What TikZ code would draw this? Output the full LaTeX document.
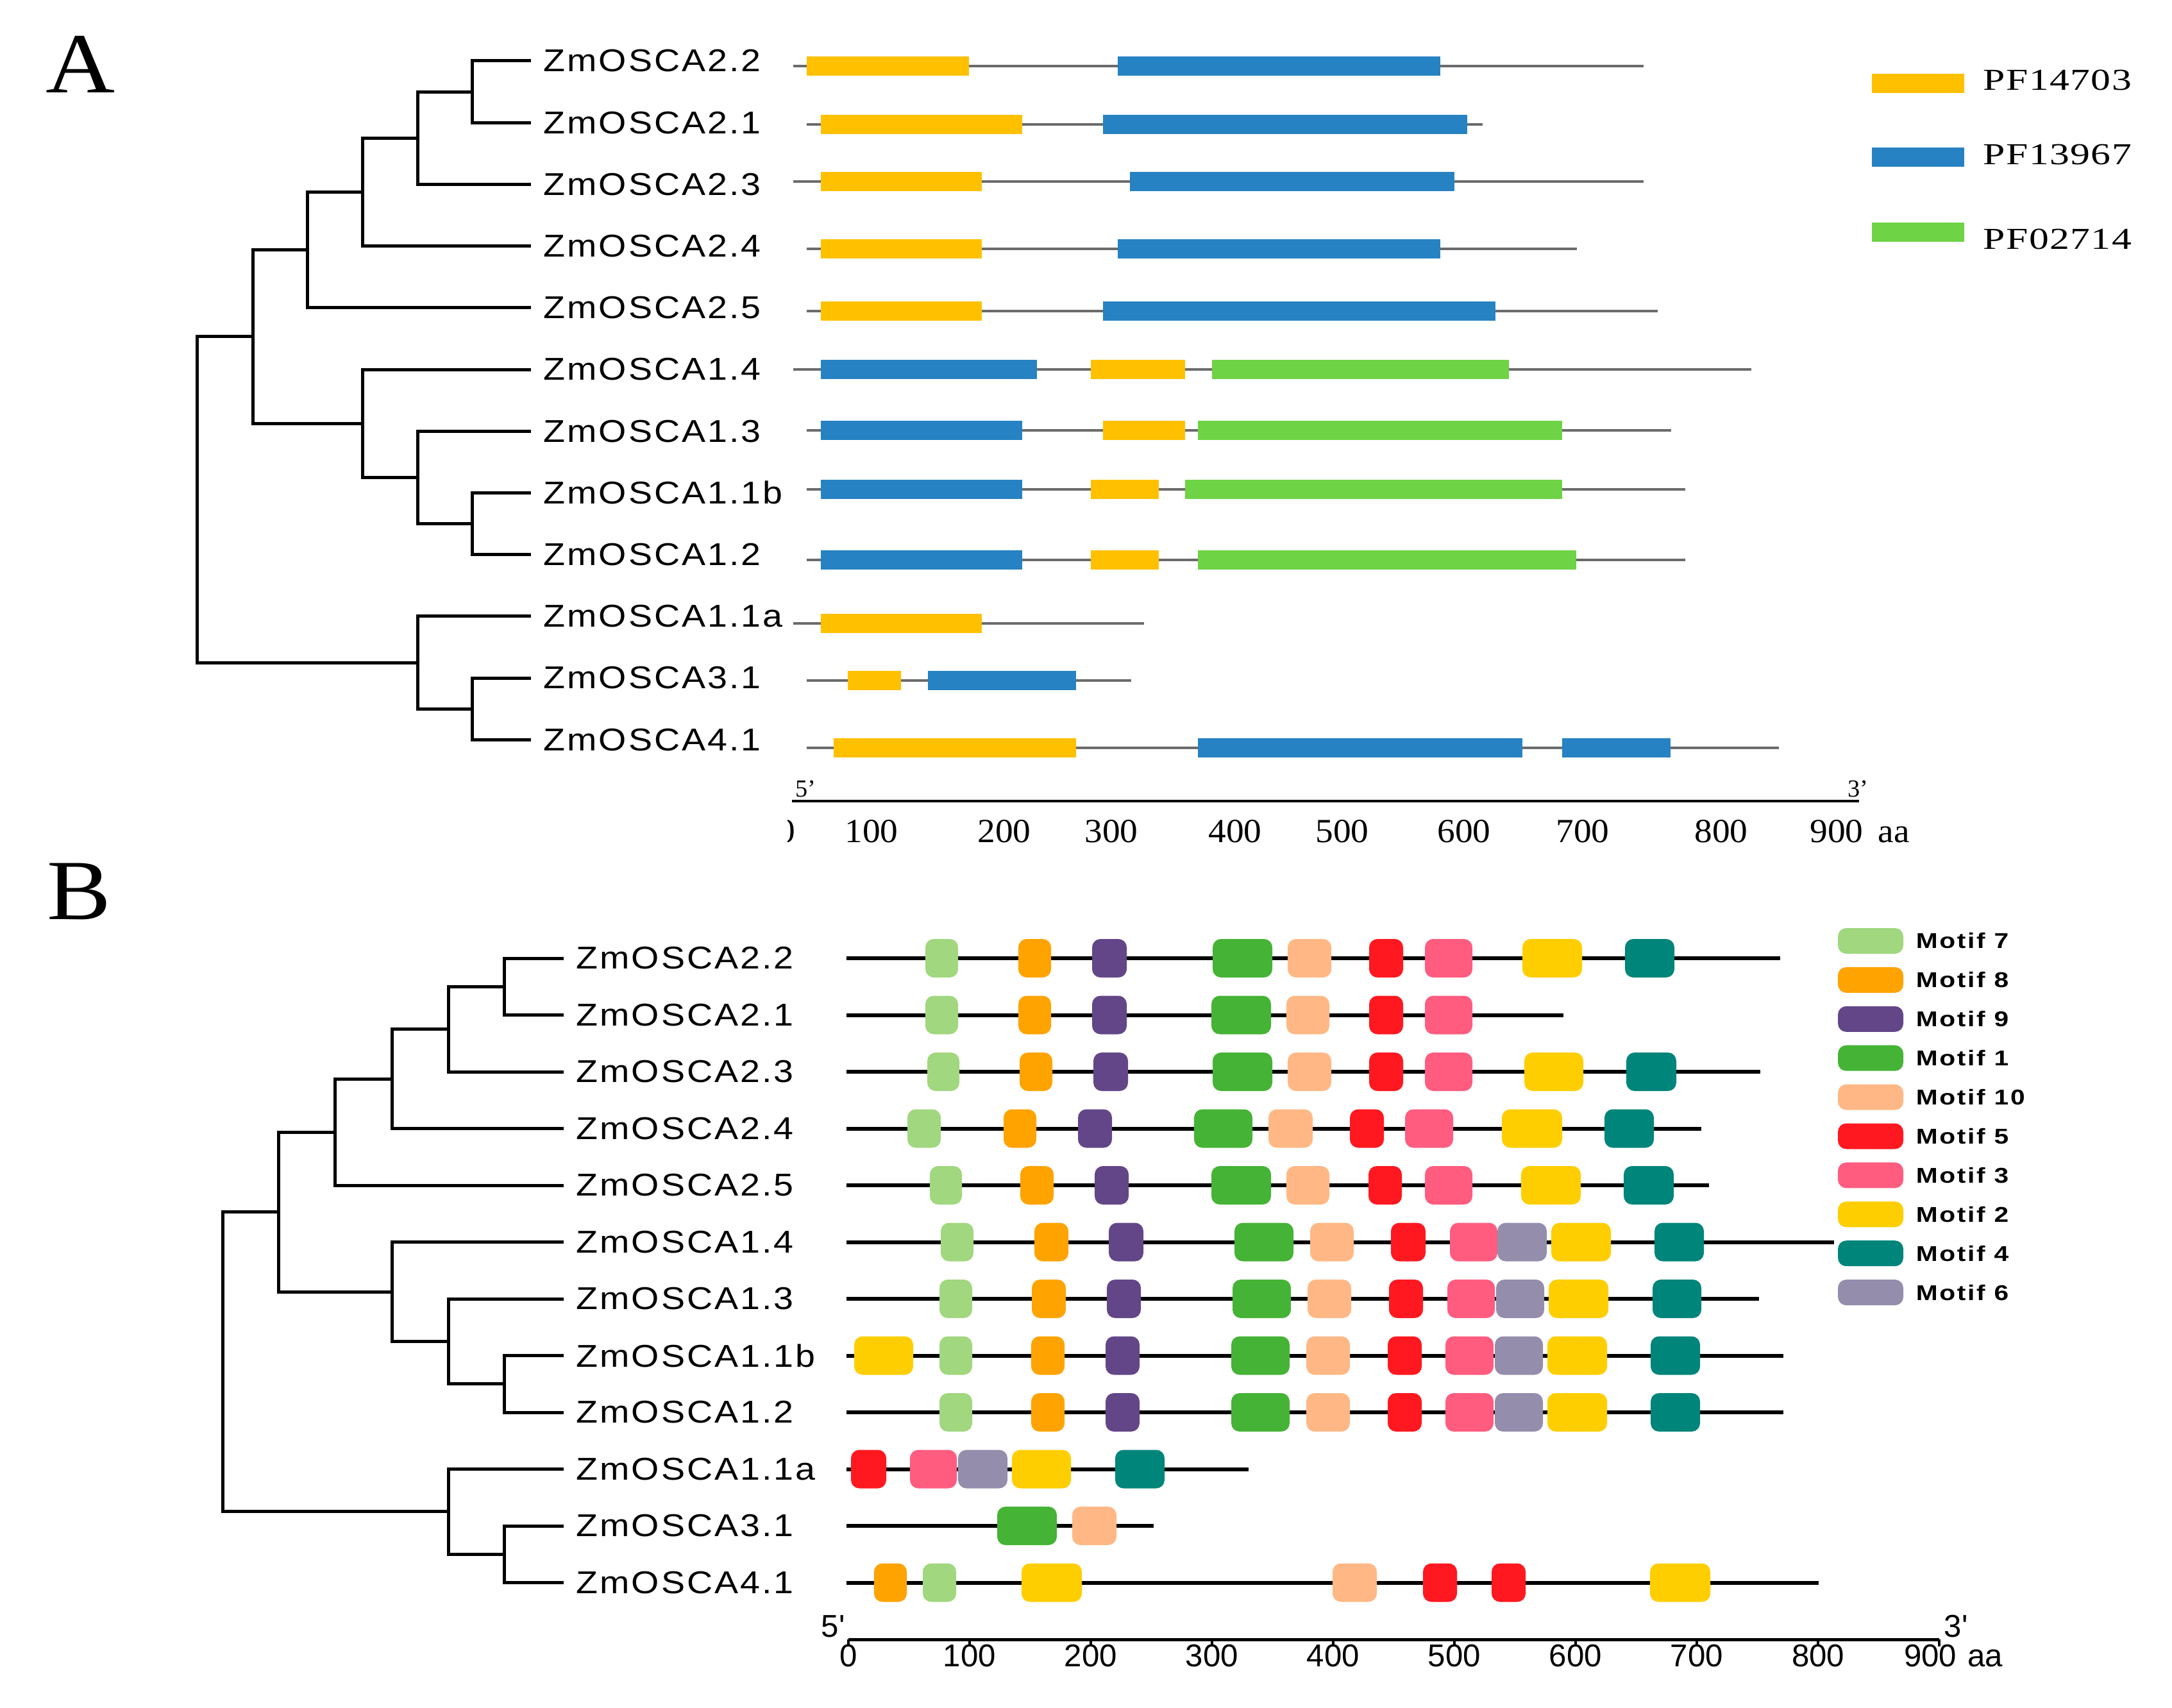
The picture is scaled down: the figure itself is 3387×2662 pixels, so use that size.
\documentclass[tikz,border=0pt]{standalone}
\usepackage{fontspec}
\setmainfont{Liberation Serif}
\setsansfont{Liberation Sans}
\newfontfamily\genefont[FakeStretch=1.13,LetterSpace=6]{Liberation Sans}
\newfontfamily\pffont[FakeStretch=1.3,LetterSpace=3]{Liberation Serif}
\newfontfamily\aafont[FakeStretch=1.05]{Liberation Serif}
\newfontfamily\motiffont[FakeStretch=1.22,LetterSpace=8]{Liberation Sans}
\newfontfamily\panelfont[FakeStretch=1.12]{Liberation Serif}
\usetikzlibrary{positioning}

\definecolor{pfyel}{HTML}{FFC000}
\definecolor{pfblu}{HTML}{2682C2}
\definecolor{pfgrn}{HTML}{6ED345}
\definecolor{seqgray}{HTML}{6B6B6B}
\definecolor{mot1}{HTML}{45B335}
\definecolor{mot2}{HTML}{FFCE00}
\definecolor{mot3}{HTML}{FF5C80}
\definecolor{mot4}{HTML}{00857A}
\definecolor{mot5}{HTML}{FF1820}
\definecolor{mot6}{HTML}{958DAC}
\definecolor{mot7}{HTML}{A1D77F}
\definecolor{mot8}{HTML}{FFA300}
\definecolor{mot9}{HTML}{634688}
\definecolor{mot10}{HTML}{FFB885}

\tikzset{
  tree/.style={line width=0.5mm, line cap=rect, line join=miter},
  gene/.style={font=\genefont\fontsize{14}{16}\selectfont, anchor=west, inner xsep=2.2mm, inner ysep=0pt},
  seqA/.style={line width=0.4mm, seqgray},
  seqB/.style={line width=0.6mm, black},
  motif/.style={rounded corners=1.3mm},
  pflabel/.style={font=\pffont\fontsize{13.5}{15}\selectfont, anchor=base west, inner sep=0pt},
  motlabel/.style={font=\motiffont\bfseries\fontsize{9.5}{11}\selectfont, anchor=west, inner sep=0pt},
  tickA/.style={font=\aafont\fontsize{15}{17}\selectfont, inner sep=0pt},
  tickB/.style={font=\sffamily\fontsize{14}{16}\selectfont, inner sep=0pt, anchor=north},
  panel/.style={font=\panelfont\fontsize{38}{42}\selectfont, inner sep=0pt}
}

\begin{document}
\begin{tikzpicture}[x=0.1mm, y=-0.1mm]
\useasboundingbox (0,0) rectangle (3387,2662);

\node[panel] (pA) at (126,100) {A};
\node[panel] (pB) at (123,1390) {B};

% gene names, both trees
\foreach \n [count=\i] in {ZmOSCA2.2,ZmOSCA2.1,ZmOSCA2.3,ZmOSCA2.4,ZmOSCA2.5,ZmOSCA1.4,ZmOSCA1.3,ZmOSCA1.1b,ZmOSCA1.2,ZmOSCA1.1a,ZmOSCA3.1,ZmOSCA4.1}{
  \node[gene] (la\i) at (825,{95+96.2*(\i-1)}) {\n};
  \node[gene] (lb\i) at (876,{1494+88.5*(\i-1)}) {\n};
}

% tree A
\coordinate (a1) at (736,143.1);
\coordinate (a2) at (651,215.25);
\coordinate (a3) at (565,299.4);
\coordinate (a4) at (479,389.6);
\coordinate (a5) at (736,816.5);
\coordinate (a6) at (651,744.35);
\coordinate (a7) at (565,660.2);
\coordinate (a8) at (394,524.9);
\coordinate (a9) at (736,1105.1);
\coordinate (a10) at (651,1033);
\coordinate (a11) at (307,779);
\draw[tree] (la1) -| (a1) |- (la2);
\draw[tree] (a1) -| (a2) |- (la3);
\draw[tree] (a2) -| (a3) |- (la4);
\draw[tree] (a3) -| (a4) |- (la5);
\draw[tree] (la8) -| (a5) |- (la9);
\draw[tree] (la7) -| (a6) |- (a5);
\draw[tree] (la6) -| (a7) |- (a6);
\draw[tree] (a4) -| (a8) |- (a7);
\draw[tree] (la11) -| (a9) |- (la12);
\draw[tree] (la10) -| (a10) |- (a9);
\draw[tree] (a8) -| (a11) |- (a10);

% tree B
\coordinate (b1) at (786,1538.25);
\coordinate (b2) at (699,1604.6);
\coordinate (b3) at (611,1682.1);
\coordinate (b4) at (522,1765);
\coordinate (b5) at (786,2157.75);
\coordinate (b6) at (699,2091.4);
\coordinate (b7) at (611,2014);
\coordinate (b8) at (434,1889.5);
\coordinate (b9) at (786,2423.25);
\coordinate (b10) at (699,2356.9);
\coordinate (b11) at (347,2123.2);
\draw[tree] (lb1) -| (b1) |- (lb2);
\draw[tree] (b1) -| (b2) |- (lb3);
\draw[tree] (b2) -| (b3) |- (lb4);
\draw[tree] (b3) -| (b4) |- (lb5);
\draw[tree] (lb8) -| (b5) |- (lb9);
\draw[tree] (lb7) -| (b6) |- (b5);
\draw[tree] (lb6) -| (b7) |- (b6);
\draw[tree] (b4) -| (b8) |- (b7);
\draw[tree] (lb11) -| (b9) |- (lb12);
\draw[tree] (lb10) -| (b10) |- (b9);
\draw[tree] (b8) -| (b11) |- (b10);

% Pfam domains
\foreach \y/\s/\e/\doms in {
  103/1237/2563/{pfyel/1258/1511,pfblu/1743/2246},
  194/1258/2312/{pfyel/1280/1594,pfblu/1720/2288},
  283/1237/2563/{pfyel/1280/1531,pfblu/1762/2268},
  388/1258/2459/{pfyel/1280/1531,pfblu/1743/2246},
  485/1258/2585/{pfyel/1280/1531,pfblu/1720/2332},
  576/1237/2731/{pfblu/1280/1617,pfyel/1701/1848,pfgrn/1890/2353},
  671/1258/2606/{pfblu/1280/1594,pfyel/1720/1848,pfgrn/1868/2436},
  763/1258/2628/{pfblu/1280/1594,pfyel/1701/1807,pfgrn/1848/2436},
  873/1258/2628/{pfblu/1280/1594,pfyel/1701/1807,pfgrn/1868/2458},
  972/1237/1784/{pfyel/1280/1531},
  1061/1258/1764/{pfyel/1322/1405,pfblu/1447/1678},
  1166/1258/2774/{pfyel/1300/1678,pfblu/1868/2374,pfblu/2436/2605}}{
  \draw[seqA] (\s,\y) -- (\e,\y);
  \foreach \c/\p/\q in \doms
    \fill[fill=\c] (\p,\y-15) rectangle (\q,\y+15);
}

\foreach \c/\y/\t/\b in {pfyel/130/PF14703/141,pfblu/245/PF13967/256,pfgrn/362/PF02714/388}{
  \fill[fill=\c] (2919,\y-15) rectangle (3063,\y+15);
  \node[pflabel] (leg\t) at (3092,\b) {\t};
}

% scale A
\draw[line width=0.4mm] (1235,1249) -- (2899,1249);
\begin{scope}
  \clip (1228,1265) rectangle (1262,1330);
  \node[tickA] (ta0) at (1226,1296) {0};
\end{scope}
\foreach \v/\x in {100/1359,200/1566,300/1733,400/1926,500/2093,600/2283,700/2468,800/2684,900/2864}
  \node[tickA] (ta\v) at (\x,1296) {\v};
\node[tickA, base right=2.2mm of ta900] (aaA) {aa};
\node[font=\fontsize{10.9}{12}\selectfont, inner sep=0pt] (fiveA) at (1256,1230) {5'};
\node[font=\fontsize{10.9}{12}\selectfont, inner sep=0pt] (threeA) at (2897,1230) {3'};

% conserved motifs
\foreach \y/\e/\mots in {
  1494/2776/{mot7/1443/1494,mot8/1588/1639,mot9/1703/1757,mot1/1891/1984,mot10/2008/2076,mot5/2135/2188,mot3/2222/2296,mot2/2374/2467,mot4/2534/2611},
  1582.5/2438/{mot7/1443/1494,mot8/1588/1639,mot9/1703/1757,mot1/1889/1982,mot10/2006/2073,mot5/2135/2188,mot3/2222/2296},
  1671/2745/{mot7/1446/1496,mot8/1590/1641,mot9/1705/1759,mot1/1891/1984,mot10/2008/2076,mot5/2135/2188,mot3/2222/2296,mot2/2377/2469,mot4/2536/2614},
  1759.5/2653/{mot7/1415/1467,mot8/1565/1616,mot9/1681/1734,mot1/1862/1953,mot10/1978/2047,mot5/2105/2158,mot3/2191/2266,mot2/2342/2436,mot4/2502/2579},
  1848/2665/{mot7/1450/1500,mot8/1591/1643,mot9/1707/1760,mot1/1889/1982,mot10/2006/2073,mot5/2134/2186,mot3/2222/2296,mot2/2372/2465,mot4/2532/2610},
  1936.5/2860/{mot7/1467/1518,mot8/1613/1666,mot9/1729/1783,mot1/1925/2017,mot10/2043/2111,mot5/2169/2223,mot3/2261/2335,mot6/2335/2412,mot2/2419/2512,mot4/2580/2657},
  2025/2743/{mot7/1465/1516,mot8/1609/1662,mot9/1726/1779,mot1/1922/2013,mot10/2039/2107,mot5/2166/2219,mot3/2257/2331,mot6/2333/2408,mot2/2415/2508,mot4/2577/2653},
  2113.5/2781/{mot2/1332/1424,mot7/1465/1516,mot8/1608/1660,mot9/1724/1777,mot1/1920/2011,mot10/2037/2105,mot5/2164/2217,mot3/2254/2329,mot6/2331/2406,mot2/2413/2506,mot4/2574/2651},
  2202/2781/{mot7/1465/1516,mot8/1608/1660,mot9/1724/1777,mot1/1920/2011,mot10/2037/2105,mot5/2164/2217,mot3/2254/2329,mot6/2331/2406,mot2/2413/2506,mot4/2574/2651},
  2290.5/1947/{mot5/1327/1382,mot3/1419/1492,mot6/1494/1571,mot2/1578/1670,mot4/1739/1816},
  2379/1799/{mot1/1555/1648,mot10/1672/1741},
  2467.5/2836/{mot8/1363/1414,mot7/1439/1491,mot2/1593/1687,mot10/2078/2147,mot5/2219/2272,mot5/2326/2379,mot2/2573/2667}}{
  \draw[seqB] (1320,\y) -- (\e,\y);
  \foreach \c/\p/\q in \mots
    \fill[motif, fill=\c] (\p,\y-30) rectangle (\q,\y+30);
}

\foreach \c/\t [count=\i] in {mot7/Motif 7,mot8/Motif 8,mot9/Motif 9,mot1/Motif 1,mot10/Motif 10,mot5/Motif 5,mot3/Motif 3,mot2/Motif 2,mot4/Motif 4,mot6/Motif 6}{
  \fill[motif, fill=\c] (2866,{1467+60.9*(\i-1)-20}) rectangle (2968,{1467+60.9*(\i-1)+20});
  \node[motlabel] (key\i) at (2987,{1467+60.9*(\i-1)}) {\t};
}

% scale B
\draw[line width=0.5mm] (1323,2556) -- (3024,2556);
\foreach \v in {0,100,...,800}{
  \draw[line width=0.35mm] ({1323+1.89*\v},2556) -- ({1323+1.89*\v},2567);
  \node[tickB] (tb\v) at ({1323+1.89*\v},2563) {\v};
}
\draw[line width=0.35mm] (3024,2556) -- (3024,2567);
\node[tickB] (tb900) at (3010,2563) {900};
\node[font=\sffamily\fontsize{14}{16}\selectfont, inner sep=0pt, base right=1.6mm of tb900] (aaB) {aa};
\node[font=\sffamily\fontsize{14}{16}\selectfont, inner sep=0pt] (fiveB) at (1299,2536) {5\textquotesingle};
\node[font=\sffamily\fontsize{14}{16}\selectfont, inner sep=0pt] (threeB) at (3050,2536) {3\textquotesingle};
\end{tikzpicture}
\end{document}
